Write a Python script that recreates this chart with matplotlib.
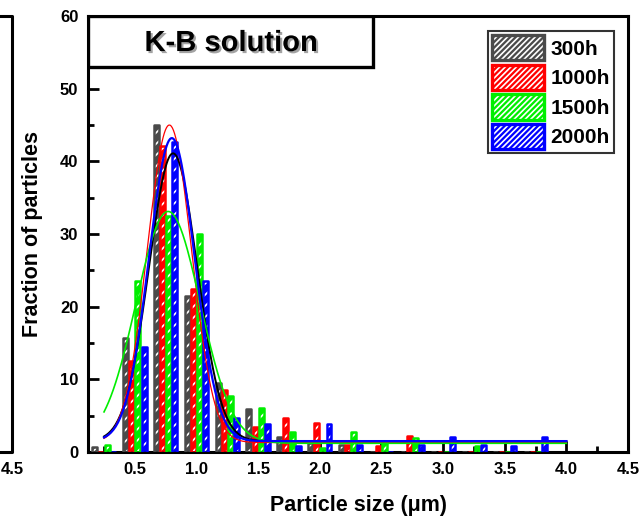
import numpy as np
import matplotlib
matplotlib.use("Agg")
import matplotlib.pyplot as plt
import matplotlib.patheffects as pe
from matplotlib.patches import Patch, Rectangle
from matplotlib.lines import Line2D

plt.rcParams["font.family"] = ["Liberation Sans", "DejaVu Sans"]
plt.rcParams["font.weight"] = "bold"
plt.rcParams["hatch.linewidth"] = 1.2

# particle size bins (group centres, um)
bins = [0.25, 0.5, 0.75, 1.0, 1.25, 1.5, 1.75, 2.0, 2.25, 2.5, 2.75, 3.0, 3.25, 3.5, 3.75]
labels = ["300h", "1000h", "1500h", "2000h"]
frac_300h = [0.7, 15.7, 45.0, 21.5, 9.5, 5.9, 2.1, 1.2, 1.0, 0, 0, 0, 0, 0, 0]
frac_1000h = [0, 12.5, 42.1, 22.4, 8.6, 3.4, 4.7, 4.0, 0.9, 0.8, 2.2, 0, 0, 0, 0]
frac_1500h = [1.0, 23.6, 32.5, 30.0, 7.7, 6.0, 2.8, 0.5, 2.7, 1.2, 1.9, 0, 0.8, 0, 0]
frac_2000h = [0, 14.5, 42.6, 23.5, 4.7, 3.9, 0.8, 3.8, 1.0, 0, 1.0, 2.1, 1.0, 0.8, 2.1]

# gaussian fit parameters
fit_center = [0.81, 0.78, 0.77, 0.80]
fit_height = [39.6, 43.7, 31.9, 41.7]
fit_width = [0.195, 0.18, 0.26, 0.185]
fit_base = [1.5, 1.3, 1.2, 1.5]

bar_colors = ["#4a4a4a", "#ff0000", "#00ee00", "#0000ff"]
line_colors = ["black", "#ff0000", "#00ee00", "#0000ff"]
line_widths = [1.4, 0.9, 1.2, 1.6]

fig = plt.figure(figsize=(6.44, 5.25), dpi=100)
ax = fig.add_axes([88 / 644, 1 - 452 / 525, 540 / 644, 436 / 525])

series = [frac_300h, frac_1000h, frac_1500h, frac_2000h]
x = np.array(bins)
offsets = [-0.075, -0.025, 0.025, 0.075]
for vals, off, c in zip(series, offsets, bar_colors):
    ax.bar(x + off, vals, width=0.04, color=c, edgecolor="white", hatch="///", linewidth=0, zorder=2)
    ax.bar(x + off, vals, width=0.04, fill=False, edgecolor=c, linewidth=1.8, joinstyle="round", zorder=3)

xs = np.linspace(0.25, 4.0, 400)
for i in range(4):
    ys = fit_base[i] + fit_height[i] * np.exp(-(xs - fit_center[i]) ** 2 / (2 * fit_width[i] ** 2))
    ax.plot(xs, ys, color=line_colors[i], lw=line_widths[i], zorder=4)

ax.set_xlim(0.12, 4.5)
ax.set_ylim(0, 60)
ax.set_xticks([0.5, 1.0, 1.5, 2.0, 2.5, 3.0, 3.5, 4.0, 4.5])
ax.set_xticks(np.arange(0.25, 4.5, 0.5), minor=True)
ax.set_yticks(range(0, 61, 10))
ax.set_yticks(range(5, 60, 10), minor=True)
ax.tick_params(which="both", direction="in", top=False, right=False, labelsize=12)
ax.tick_params(which="major", length=8, width=2)
ax.tick_params(which="minor", length=4.5, width=2)
ax.tick_params(axis="x", pad=7)
ax.tick_params(axis="y", pad=7)
for s in ax.spines.values():
    s.set_linewidth(2.2)

ax.set_xlabel("Particle size (\u03bcm)", fontsize=15.5, fontweight="bold", labelpad=13)
ax.set_ylabel("Fraction of particles", fontsize=15.5, fontweight="bold", labelpad=12)

# title box
ax.add_patch(Rectangle((0, 0.883), 0.528, 0.117, transform=ax.transAxes, fill=True,
                       facecolor="white", edgecolor="black", linewidth=2.4, zorder=5))
ax.text(0.265, 0.938, "K-B solution", transform=ax.transAxes, fontsize=21, fontweight="bold",
        ha="center", va="center", zorder=6,
        path_effects=[pe.SimplePatchShadow(offset=(1.5, -1.5), shadow_rgbFace="0.4", alpha=0.6), pe.Normal()])

handles = []
for c in bar_colors:
    handles.append((Patch(facecolor=c, edgecolor="white", hatch="//////", linewidth=0),
                    Patch(fill=False, edgecolor=c, linewidth=2.4)))
leg = ax.legend(handles, labels, loc="upper right", bbox_to_anchor=(0.974, 0.966),
                prop={"weight": "bold", "size": 15}, frameon=True, fancybox=False, edgecolor="black",
                borderpad=0.2, borderaxespad=0, handlelength=2.5, handleheight=1.5,
                labelspacing=0.2, handletextpad=0.3)
leg.get_frame().set_linewidth(1.5)
leg.set_zorder(6)

# fragment of the neighbouring panel at the left edge
fig.add_artist(Line2D([0, 12 / 644, 12 / 644, 0], [1 - 16 / 525, 1 - 16 / 525, 1 - 452 / 525, 1 - 452 / 525],
                      color="black", lw=2.2))
fig.text(12 / 644, 1 - 469 / 525, "4.5", fontsize=12, fontweight="bold", ha="center", va="center")

fig.savefig("out.png", dpi=100)
